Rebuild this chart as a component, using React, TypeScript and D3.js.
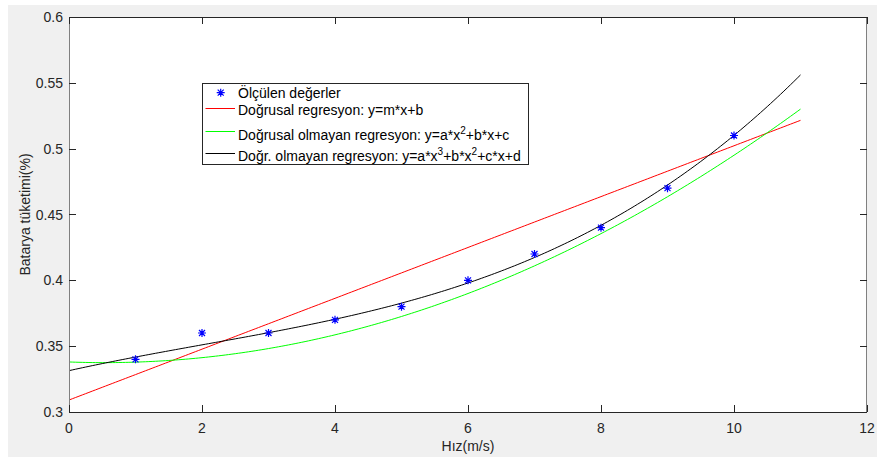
import React from "react";
import * as d3 from "d3";

const speeds = [1, 2, 3, 4, 5, 6, 7, 8, 9, 10];
const measured = [0.34, 0.36, 0.36, 0.37, 0.38, 0.40, 0.42, 0.44, 0.47, 0.51];
// polynomial coefficients, highest power first
const linearCoef = [0.01931, 0.3091];
const quadCoef = [0.001758, -0.00188, 0.338];
const cubicCoef = [0.000171, -0.001043, 0.0112, 0.3314];
const fitRange = [0, 11];
const xTicks = [0, 2, 4, 6, 8, 10, 12];
const yTicks = [0.3, 0.35, 0.4, 0.45, 0.5, 0.55, 0.6];
const yTickLabels = ["0.3", "0.35", "0.4", "0.45", "0.5", "0.55", "0.6"];
const xLabel = "Hız(m/s)";
const yLabel = "Batarya tüketimi(%)";

const W = 877, H = 457;
const M = { left: 69, right: 867, top: 17, bottom: 412 };
const FONT = "'Liberation Sans', Arial, Helvetica, sans-serif";

function polyval(c: number[], x: number) {
  return c.reduce((acc, v) => acc * x + v, 0);
}

export default function App() {
  const x = d3.scaleLinear().domain([0, 12]).range([M.left, M.right]);
  const y = d3.scaleLinear().domain([0.3, 0.6]).range([M.bottom, M.top]);
  const xs = d3.range(fitRange[0], fitRange[1] + 1e-9, 0.05);
  const curve = (c: number[]) =>
    d3.line<[number, number]>().x((d) => x(d[0])).y((d) => y(d[1]))(xs.map((v) => [v, polyval(c, v)]) as [number, number][]) || "";

  const star = (cx: number, cy: number, key: string | number) => (
    <path
      key={key}
      d={`M${cx - 4},${cy}L${cx + 4},${cy}M${cx},${cy - 4}L${cx},${cy + 4}M${cx - 3},${cy - 3}L${cx + 3},${cy + 3}M${cx - 3},${cy + 3}L${cx + 3},${cy - 3}`}
      stroke="#0000ff"
      strokeWidth={1.2}
      fill="none"
    />
  );

  const axisColor = "#262626";
  const tickLen = 7;

  return (
    <svg width={W} height={H} style={{ position: "absolute", left: 0, top: 0, fontFamily: FONT }}>
      <rect x={0} y={0} width={W} height={H} fill="#ffffff" />
      <rect x={8} y={5} width={W - 8} height={H - 5} fill="#f0f0f0" />
      <rect x={M.left} y={M.top} width={M.right - M.left} height={M.bottom - M.top} fill="#ffffff" />
      <defs>
        <clipPath id="plotclip">
          <rect x={M.left} y={M.top} width={M.right - M.left} height={M.bottom - M.top} />
        </clipPath>
      </defs>
      <g clipPath="url(#plotclip)">
        <path d={curve(linearCoef)} stroke="#ff0000" strokeWidth={1} fill="none" />
        <path d={curve(quadCoef)} stroke="#00ff00" strokeWidth={1} fill="none" />
        <path d={curve(cubicCoef)} stroke="#000000" strokeWidth={1} fill="none" />
        {speeds.map((s, i) => star(x(s), y(measured[i]), i))}
      </g>
      <g stroke={axisColor} strokeWidth={1} fill="none" shapeRendering="crispEdges">
        <line x1={M.left} x2={M.right} y1={M.bottom + 0.5} y2={M.bottom + 0.5} />
        <line x1={M.left} x2={M.right} y1={M.top + 0.5} y2={M.top + 0.5} />
        <line x1={M.left + 0.5} x2={M.left + 0.5} y1={M.top} y2={M.bottom + 1} stroke="#808080" />
        <line x1={M.right - 0.5} x2={M.right - 0.5} y1={M.top} y2={M.bottom + 1} stroke="#808080" />
        {xTicks.map((t) => (
          <g key={"xt" + t}>
            <line x1={Math.round(x(t)) + 0.5} x2={Math.round(x(t)) + 0.5} y1={M.bottom} y2={M.bottom - tickLen} />
            <line x1={Math.round(x(t)) + 0.5} x2={Math.round(x(t)) + 0.5} y1={M.top} y2={M.top + tickLen} />
          </g>
        ))}
        {yTicks.map((t) => (
          <g key={"yt" + t}>
            <line x1={M.left} x2={M.left + tickLen} y1={Math.round(y(t)) + 0.5} y2={Math.round(y(t)) + 0.5} />
            <line x1={M.right} x2={M.right - tickLen} y1={Math.round(y(t)) + 0.5} y2={Math.round(y(t)) + 0.5} />
          </g>
        ))}
      </g>
      <g fill={axisColor} fontSize={14}>
        {xTicks.map((t) => (
          <text key={"xl" + t} x={x(t)} y={433} textAnchor="middle">
            {t}
          </text>
        ))}
        {yTicks.map((t, i) => (
          <text key={"yl" + t} x={63} y={y(t) + 5} textAnchor="end">
            {yTickLabels[i]}
          </text>
        ))}
        <text x={(M.left + M.right) / 2} y={451} textAnchor="middle">
          {xLabel}
        </text>
        <text transform={`translate(30,${(M.top + M.bottom) / 2}) rotate(-90)`} textAnchor="middle">
          {yLabel}
        </text>
      </g>
      <g fontSize={14} fill="#000000">
        <rect x={202.5} y={83.5} width={326} height={81} fill="#ffffff" stroke="#262626" strokeWidth={1} />
        {star(220.7, 92.7, "lg")}
        <text x={238} y={97.7}>Ölçülen değerler</text>
        <line x1={205.5} x2={235} y1={108.5} y2={108.5} stroke="#ff0000" strokeWidth={1} />
        <text x={238} y={114.5}>Doğrusal regresyon: y=m*x+b</text>
        <line x1={205.5} x2={235} y1={131.5} y2={131.5} stroke="#00ff00" strokeWidth={1} />
        <text x={238} y={139.5}>
          Doğrusal olmayan regresyon: y=a*x
          <tspan fontSize={10} dy={-6}>2</tspan>
          <tspan dy={6}>+b*x+c</tspan>
        </text>
        <line x1={205.5} x2={235} y1={153.5} y2={153.5} stroke="#000000" strokeWidth={1} />
        <text x={238} y={161}>
          Doğr. olmayan regresyon: y=a*x
          <tspan fontSize={10} dy={-6}>3</tspan>
          <tspan dy={6}>+b*x</tspan>
          <tspan fontSize={10} dy={-6}>2</tspan>
          <tspan dy={6}>+c*x+d</tspan>
        </text>
      </g>
    </svg>
  );
}
